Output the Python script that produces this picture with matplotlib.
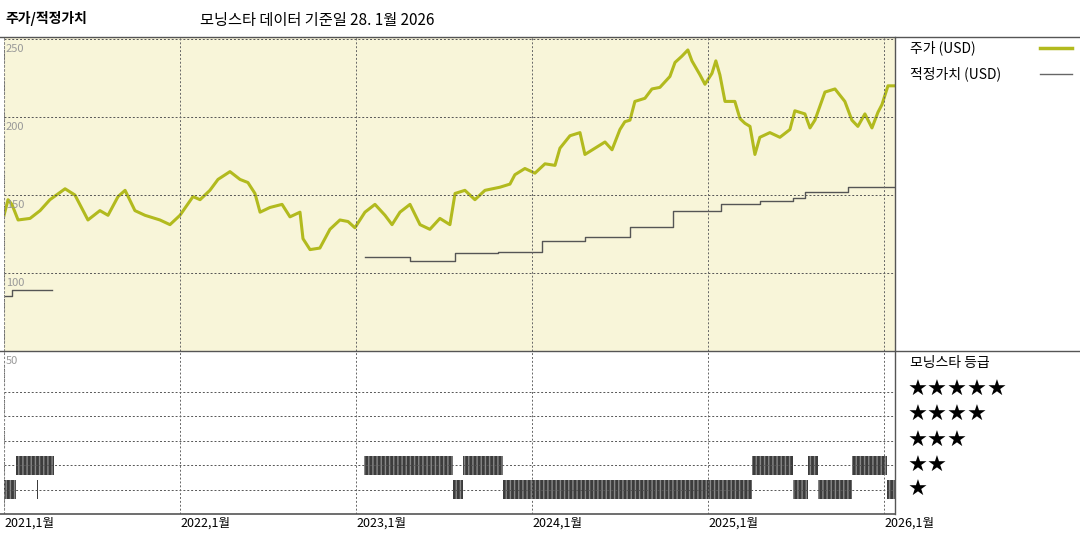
import matplotlib
matplotlib.use("Agg")
import matplotlib.pyplot as plt
from matplotlib.lines import Line2D

plt.rcParams['font.family'] = ['Noto Sans CJK KR', 'DejaVu Sans']

# years since Jan 2021
price_t = [0, .023, .045, .080, .148, .205, .261, .347, .403, .477, .545, .591, .648, .688, .744, .801,
           .886, .943, 1.0, 1.074, 1.114, 1.170, 1.216, 1.284, 1.341, 1.386, 1.426, 1.455, 1.511, 1.580,
           1.625, 1.682, 1.699, 1.739, 1.795, 1.852, 1.909, 1.955, 1.994, 2.051, 2.108, 2.165, 2.205, 2.25,
           2.307, 2.364, 2.420, 2.477, 2.534, 2.563, 2.619, 2.676, 2.733, 2.818, 2.875, 2.903, 2.960, 3.017,
           3.074, 3.131, 3.159, 3.216, 3.273, 3.301, 3.358, 3.415, 3.455, 3.5, 3.528, 3.557, 3.585, 3.642,
           3.682, 3.727, 3.784, 3.813, 3.852, 3.886, 3.909, 3.955, 3.983, 4.023, 4.045, 4.068, 4.097, 4.153,
           4.182, 4.210, 4.239, 4.267, 4.295, 4.352, 4.409, 4.466, 4.494, 4.551, 4.580, 4.608, 4.665, 4.722,
           4.778, 4.818, 4.852, 4.892, 4.932, 4.966, 4.989, 5.023, 5.063]
price_v = [137, 147, 144, 134, 135, 140, 147, 154, 150, 134, 140, 137, 149, 153, 140, 137,
           134, 131, 137, 149, 147, 153, 160, 165, 160, 158, 151, 139, 142, 144,
           136, 139, 122, 115, 116, 128, 134, 133, 129, 139, 144, 137, 131, 139,
           144, 131, 128, 135, 131, 151, 153, 147, 153, 155, 157, 163, 167, 164,
           170, 169, 180, 188, 190, 176, 180, 184, 179, 192, 197, 198, 210, 212,
           218, 219, 226, 235, 239, 243, 236, 227, 221, 228, 236, 227, 210, 210,
           199, 196, 194, 176, 187, 190, 187, 192, 204, 202, 193, 198, 216, 218,
           210, 198, 194, 202, 193, 203, 208, 220, 220]

# fair value steps; two separate segments
fv1_t = [0, .045, .045, .273]
fv1_v = [85, 85, 89, 89]
fv2_t = [2.051, 2.307, 2.307, 2.563, 2.563, 2.807, 2.807, 3.057, 3.057, 3.301, 3.301, 3.557,
         3.557, 3.801, 3.801, 4.074, 4.074, 4.295, 4.295, 4.483, 4.483, 4.551, 4.551, 4.796, 4.796, 5.063]
fv2_v = [110.5, 110.5, 108, 108, 113, 113, 113.5, 113.5, 120.5, 120.5, 123, 123,
         129.5, 129.5, 140, 140, 144, 144, 146, 146, 148, 148, 152, 152, 155, 155]

# rating intervals (start, end) in years since Jan 2021
star1 = [(0.0, 0.068), (0.185, 0.192), (2.551, 2.608), (2.835, 4.250), (4.483, 4.568), (4.625, 4.818), (5.017, 5.063)]
star2 = [(0.068, 0.284), (2.045, 2.551), (2.608, 2.835), (4.250, 4.483), (4.568, 4.625), (4.818, 5.017)]

year_labels = ["2021,1월", "2022,1월", "2023,1월", "2024,1월", "2025,1월", "2026,1월"]

W, H = 1080, 540
fig = plt.figure(figsize=(10.8, 5.4), dpi=100)
x0, x1 = 4 / W, 895 / W
ax = fig.add_axes([x0, 1 - 351 / H, x1 - x0, (351 - 37) / H])
ax2 = fig.add_axes([x0, 1 - 514 / H, x1 - x0, (514 - 351) / H])

xmax = 5.063
ax.set_facecolor('#f8f5d9')
ax.set_xlim(0, xmax)
ax.set_ylim(50, 251.3)
ax.plot(price_t, price_v, color='#b2ba1e', lw=2.2)
ax.plot(fv1_t, fv1_v, color='#555555', lw=1)
ax.plot(fv2_t, fv2_v, color='#555555', lw=1)
for y in [100, 150, 200, 250]:
    ax.axhline(y, color='#555555', lw=0.7, ls=(0, (2, 2)))
for y, lab in [(250, "250"), (200, "200"), (150, "150"), (100, "100")]:
    ax.text(0.01, y - 3, lab, color='#999999', fontsize=8, va='top', ha='left')
ax2.set_xlim(0, xmax)
ax2.set_ylim(0, 6.67)
for y in [1, 2, 3, 4, 5]:
    ax2.axhline(y, color='#555555', lw=0.7, ls=(0, (2, 2)))
ax2.text(0.01, 6.45, "50", color='#999999', fontsize=8, va='top', ha='left')
for ivs, row in [(star1, 1), (star2, 2)]:
    ax2.broken_barh([(a, b - a) for a, b in ivs], (row - 0.39, 0.78),
                    facecolor='#3c3c3c', edgecolor='#888888', hatch='||||', lw=0)
for a in (ax, ax2):
    for i in range(6):
        a.axvline(i, color='#666666', lw=0.7, ls=(0, (2, 2)))
    a.set_xticks([]); a.set_yticks([])
    for s in a.spines.values():
        s.set_visible(False)
    a.axvline(0, color='#888888', lw=0.8, ls=(0, (2, 2)))

for i, lab in enumerate(year_labels):
    ax2.text(i + 0.005, -0.1, lab, fontsize=9, va='top', ha='left', transform=ax2.transData, clip_on=False)

def hline(y, xa, xb, lw=1, c='#555555'):
    fig.add_artist(Line2D([xa / W, xb / W], [1 - y / H, 1 - y / H], color=c, lw=lw))
def vline(x, ya, yb, lw=1, c='#555555'):
    fig.add_artist(Line2D([x / W, x / W], [1 - ya / H, 1 - yb / H], color=c, lw=lw))
hline(37, 0, W, 1)
hline(351, 0, W, 1)
hline(514, 0, 895, 1.2)
vline(895, 37, 514, 1)

fig.text(5 / W, 1 - 19 / H, "주가/적정가치", fontsize=10, fontweight='bold', va='center')
fig.text(200 / W, 1 - 20 / H, "모닝스타 데이터 기준일 28. 1월 2026", fontsize=11, va='center')
fig.text(910 / W, 1 - 48 / H, "주가 (USD)", fontsize=10, va='center')
fig.text(910 / W, 1 - 74 / H, "적정가치 (USD)", fontsize=10, va='center')
hline(48, 1040, 1072, 2.5, '#b2ba1e')
hline(74, 1040, 1072, 1, '#666666')
fig.text(910 / W, 1 - 363 / H, "모닝스타 등급", fontsize=10, va='center')
for n, y in zip([5, 4, 3, 2, 1], [390, 415, 441, 466, 490]):
    fig.text(908 / W, 1 - y / H, "★" * n, fontsize=16, va='center', family=['DejaVu Sans'])

fig.savefig("out.png", dpi=100)
